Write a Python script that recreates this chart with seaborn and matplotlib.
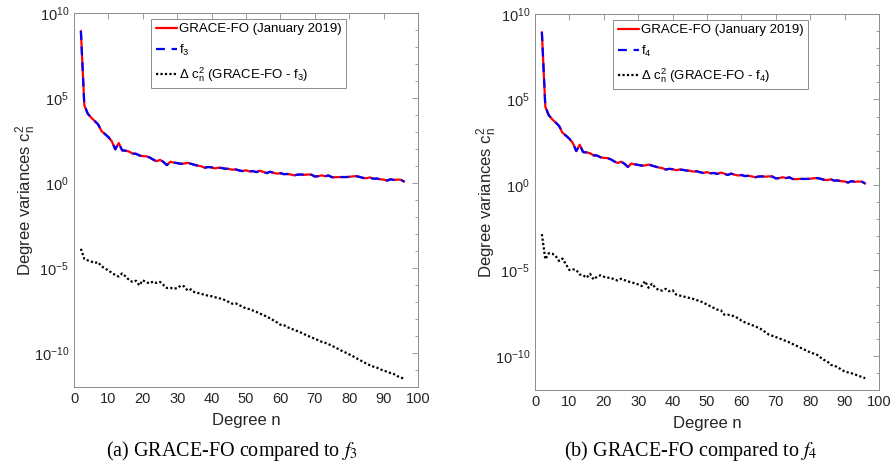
import numpy as np
import pandas as pd
import matplotlib
matplotlib.use("Agg")
import matplotlib.pyplot as plt
import matplotlib.ticker as mticker
import seaborn as sns

# ---------------- data (log10 of degree variances) ----------------
degrees = list(range(2, 97))

grace_log10 = [8.94, 4.57, 4.08, 3.84, 3.65, 3.45, 3.05, 2.88, 2.70, 2.45,
               1.98, 2.35, 1.92, 1.90, 1.85, 1.73, 1.72, 1.62, 1.58, 1.57,
               1.50, 1.38, 1.28, 1.36, 1.24, 1.05, 1.25, 1.20, 1.17, 1.13,
               1.14, 1.19, 1.13, 1.07, 1.02, 0.98, 0.90, 0.94, 0.92, 0.86,
               0.90, 0.88, 0.84, 0.83, 0.78, 0.80, 0.74, 0.70, 0.75, 0.68,
               0.70, 0.64, 0.72, 0.66, 0.58, 0.66, 0.60, 0.55, 0.58, 0.52,
               0.53, 0.50, 0.45, 0.49, 0.50, 0.48, 0.50, 0.49, 0.38, 0.40,
               0.45, 0.40, 0.44, 0.34, 0.34, 0.35, 0.35, 0.35, 0.36, 0.39,
               0.40, 0.36, 0.30, 0.28, 0.33, 0.25, 0.26, 0.22, 0.20, 0.14,
               0.22, 0.18, 0.20, 0.19, 0.08]

# f3 and f4 coincide with GRACE-FO at the resolution of the picture
f3_log10 = list(grace_log10)
f4_log10 = list(grace_log10)

diff_f3_log10 = [-3.87, -4.47, -4.55, -4.62, -4.70, -4.66, -4.90, -5.02, -5.15, -5.28,
                 -5.42, -5.50, -5.32, -5.50, -5.70, -5.82, -5.75, -6.02, -5.72, -5.84,
                 -5.90, -5.80, -5.88, -5.82, -6.00, -6.18, -6.17, -6.22, -6.18, -6.04,
                 -6.08, -6.32, -6.26, -6.42, -6.47, -6.52, -6.58, -6.63, -6.66, -6.72,
                 -6.77, -6.82, -6.90, -7.00, -7.10, -7.08, -7.18, -7.28, -7.38, -7.42,
                 -7.50, -7.58, -7.68, -7.76, -7.86, -7.96, -8.08, -8.20, -8.34, -8.36,
                 -8.48, -8.56, -8.64, -8.72, -8.80, -8.90, -8.99, -9.08, -9.16, -9.25,
                 -9.34, -9.40, -9.48, -9.58, -9.68, -9.78, -9.89, -9.98, -10.08, -10.18,
                 -10.30, -10.40, -10.52, -10.62, -10.72, -10.80, -10.86, -10.96, -11.03, -11.10,
                 -11.18, -11.24, -11.36, -11.44, -11.52]

diff_f4_log10 = [-2.88, -4.35, -4.00, -4.02, -4.16, -4.45, -4.31, -4.65, -4.98, -4.94,
                 -4.98, -5.24, -5.29, -5.43, -5.20, -5.53, -5.37, -5.29, -5.37, -5.43,
                 -5.43, -5.53, -5.59, -5.49, -5.57, -5.65, -5.69, -5.76, -5.82, -5.92,
                 -5.63, -6.02, -5.78, -6.02, -6.16, -6.18, -6.08, -6.22, -6.16, -6.41,
                 -6.47, -6.52, -6.57, -6.62, -6.67, -6.74, -6.80, -6.90, -7.00, -7.10,
                 -7.20, -7.30, -7.33, -7.59, -7.59, -7.64, -7.69, -7.80, -7.94, -8.04,
                 -8.12, -8.20, -8.27, -8.37, -8.47, -8.62, -8.76, -8.83, -8.90, -8.98,
                 -9.06, -9.14, -9.22, -9.32, -9.41, -9.51, -9.61, -9.70, -9.80, -9.87,
                 -9.94, -10.10, -10.24, -10.33, -10.53, -10.58, -10.67, -10.80, -10.92, -10.97,
                 -11.02, -11.09, -11.16, -11.24, -11.31]

x_ticks = [0, 10, 20, 30, 40, 50, 60, 70, 80, 90, 100]
y_major = [1e-10, 1e-5, 1e0, 1e5, 1e10]

# ---------------- style ----------------
sns.set_theme(style="white")
plt.rcParams["font.family"] = ["Liberation Sans", "DejaVu Sans"]
plt.rcParams["mathtext.fontset"] = "custom"
plt.rcParams["mathtext.rm"] = "Liberation Sans"
plt.rcParams["mathtext.it"] = "Liberation Sans:italic"
plt.rcParams["mathtext.bf"] = "Liberation Sans:bold"

TEXT = "#262626"
FRAME = "#8c8c8c"

fig = plt.figure(figsize=(8.96, 4.71), dpi=100)
ax_a = fig.add_axes([74 / 896, 1 - 387 / 471, 344 / 896, 374 / 471])
ax_b = fig.add_axes([535 / 896, 1 - 390 / 471, 344 / 896, 376 / 471])


def draw_panel(ax, model_log10, diff_log10, model_name, leg_x):
    df = pd.DataFrame({
        "n": degrees,
        "grace": 10.0 ** np.array(grace_log10),
        "model": 10.0 ** np.array(model_log10),
        "diff": 10.0 ** np.array(diff_log10),
    })
    sns.lineplot(data=df, x="n", y="grace", ax=ax, color="#ff0000", linewidth=1.6,
                 label="GRACE-FO (January 2019)")
    sns.lineplot(data=df, x="n", y="model", ax=ax, color="#0000ff", linewidth=1.6,
                 linestyle=(0, (4.0, 3.0)), label="f$\\mathregular{_%s}$" % model_name[1])
    sns.lineplot(data=df, x="n", y="diff", ax=ax, color="black", linewidth=1.6,
                 linestyle=(0, (1.0, 1.0)),
                 label="$\\Delta$ c$\\mathregular{_n^2}$ (GRACE-FO - f$\\mathregular{_%s}$)" % model_name[1])
    ax.set_yscale("log")
    ax.set_xlim(0, 100)
    ax.set_ylim(1e-12, 1e10)
    ax.set_xticks(x_ticks)
    ax.yaxis.set_major_locator(mticker.FixedLocator(y_major))
    ax.yaxis.set_minor_locator(mticker.LogLocator(base=10, subs=(1.0,), numticks=60))
    ax.yaxis.set_minor_formatter(mticker.NullFormatter())
    ax.tick_params(axis="both", which="both", direction="in", top=True, right=True,
                   colors=FRAME, labelcolor=TEXT, labelsize=10.5)
    ax.tick_params(axis="both", which="major", length=4, width=0.6)
    ax.tick_params(axis="y", which="minor", length=2.5, width=0.6)
    for s in ax.spines.values():
        s.set_color(FRAME)
        s.set_linewidth(0.7)
    ax.set_xlabel("Degree n", fontsize=12, color=TEXT, labelpad=5)
    ax.set_ylabel("Degree variances c$\\mathregular{_n^2}$", fontsize=12, color=TEXT, labelpad=-3)
    leg = ax.legend(loc="upper left", bbox_to_anchor=(leg_x, 0.985), borderaxespad=0,
                    fontsize=9.5, handlelength=1.6, handletextpad=0.15, labelspacing=0.55,
                    borderpad=0.35, frameon=True, fancybox=False, framealpha=1)
    leg.get_frame().set_edgecolor(FRAME)
    leg.get_frame().set_linewidth(0.7)
    for t in leg.get_texts():
        t.set_color("black")


draw_panel(ax_a, f3_log10, diff_f3_log10, "f3", 0.225)
draw_panel(ax_b, f4_log10, diff_f4_log10, "f4", 0.227)

fig.text(232 / 896, 1 - 451 / 471, "(a) GRACE-FO compared to $f_3$", ha="center", va="center",
         fontsize=14.5, family="Liberation Serif", math_fontfamily="stix", color="black")
fig.text(691 / 896, 1 - 451 / 471, "(b) GRACE-FO compared to $f_4$", ha="center", va="center",
         fontsize=14.5, family="Liberation Serif", math_fontfamily="stix", color="black")

fig.savefig("out.png", dpi=100)
